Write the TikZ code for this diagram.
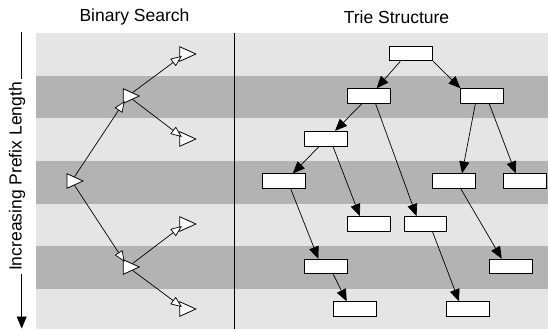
\documentclass[tikz,border=0pt]{standalone}
\usepackage{fontspec}
\setmainfont{Liberation Sans}
\usetikzlibrary{arrows.meta,shapes.geometric}

\definecolor{bandlight}{HTML}{E5E5E5}
\definecolor{banddark}{HTML}{B3B3B3}

\begin{document}
\begin{tikzpicture}[x=1pt,y=-1pt,
    font=\fontsize{17.5}{21}\selectfont]
      \useasboundingbox (0,0) rectangle (548,329);
      % horizontal bands, one per prefix length
      \foreach \i in {0,...,6} {
        \pgfmathsetmacro{\top}{33+42.67*\i}
        \pgfmathsetmacro{\bot}{min(33+42.67*(\i+1),329)}
        \pgfmathparse{mod(\i,2)==0 ? "bandlight" : "banddark"}
        \fill[\pgfmathresult] (36,\top) rectangle (548,\bot);
      }
      \draw[line width=0.9pt] (234.3,33) -- (234.3,329);
      \node (bs) at (134.5,17) {Binary Search};
      \node (ts) at (396.5,17) {Trie Structure};
      % length axis
      \draw[line width=0.8pt,-{Triangle[length=12pt,width=10pt]}] (21.7,32) -- (21.7,328.5);
      \node (len) [rotate=90,anchor=base,fill=white,inner xsep=3pt,inner ysep=2pt]
        at (21.7,176.5) {Increasing Prefix Length};
      \begin{scope}[every node/.style={isosceles triangle,isosceles triangle stretches,
          draw,fill=white,line width=0.8pt,inner sep=0pt,
          minimum width=14.5pt,minimum height=16pt}]
        \node (b0) at (71.7,181) {};
        \node (b1) at (128,96) {};
        \node (b2) at (128,267) {};
        \node (b3) at (184.5,54) {};
        \node (b4) at (184.5,139) {};
        \node (b5) at (184.5,224) {};
        \node (b6) at (184.5,309) {};
      \end{scope}
      \begin{scope}[every edge/.style={draw,line width=0.7pt,shorten >=-3pt,
          -{Triangle[open,fill=white,length=11pt,width=9pt]}}]
        \path (b0) edge (b1);
        \path (b0) edge (b2);
        \path (b1) edge (b3);
        \path (b1) edge (b4);
        \path (b2) edge (b5);
        \path (b2) edge (b6);
      \end{scope}
      \begin{scope}[every node/.style={rectangle,draw,fill=white,line width=1pt,
          inner sep=0pt,minimum width=42.7pt,minimum height=14.7pt}]
        \node (root) at (411.3,53.5) {};
        \node (l2a) at (368.7,96.1) {};
        \node (l2b) at (482.3,96.1) {};
        \node (l3) at (326,138.7) {};
        \node (l4a) at (283.8,181.3) {};
        \node (l4b) at (454,181.3) {};
        \node (l4c) at (524.7,181.3) {};
        \node (l5a) at (368.8,223.9) {};
        \node (l5b) at (425.5,223.9) {};
        \node (l6a) at (326.3,266.5) {};
        \node (l6b) at (510.7,266.5) {};
        \node (l7a) at (354.7,309.1) {};
        \node (l7b) at (468,309.1) {};
      \end{scope}
      \begin{scope}[line width=0.7pt,-{Triangle[length=12pt,width=10pt]}]
        \draw ([xshift=-11pt]root.south) -- ([xshift=8pt]l2a.north);
        \draw (root.south east) -- (l2b.north west);
        \draw ([xshift=-7pt]l2a.south) -- ([xshift=9pt]l3.north);
        \draw ([xshift=7pt]l2a.south) -- ([xshift=-9pt]l5b.north);
        \draw ([xshift=-7pt]l2b.south) -- ([xshift=8pt]l4b.north);
        \draw ([xshift=7pt]l2b.south) -- ([xshift=-9pt]l4c.north);
        \draw ([xshift=-7pt]l3.south) -- ([xshift=9pt]l4a.north);
        \draw ([xshift=7pt]l3.south) -- ([xshift=-9pt]l5a.north);
        \draw ([xshift=7pt]l4a.south) -- ([xshift=-8pt]l6a.north);
        \draw ([xshift=7pt]l4b.south) -- ([xshift=-9pt]l6b.north);
        \draw ([xshift=7pt]l5b.south) -- ([xshift=-9pt]l7b.north);
        \draw ([xshift=7pt]l6a.south) -- ([xshift=-8pt]l7a.north);
      \end{scope}
    \end{tikzpicture}
\end{document}
